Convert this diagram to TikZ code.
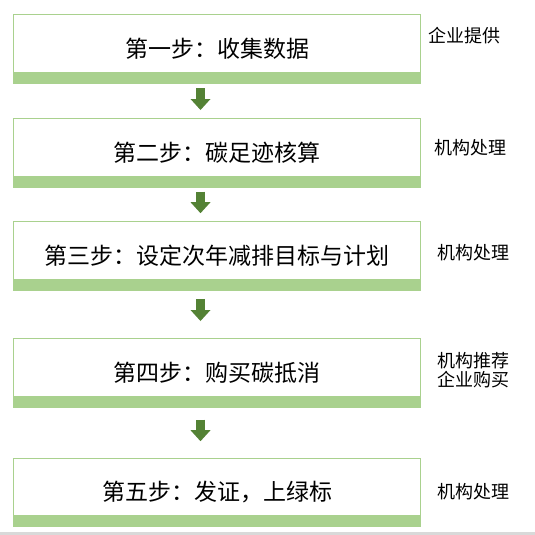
\documentclass[tikz,border=0pt]{standalone}
\usepackage{fontspec}
\setmainfont{Noto Sans CJK SC}
\usetikzlibrary{arrows.meta}
\definecolor{boxgreen}{HTML}{A9D18E}
\definecolor{arrowgreen}{HTML}{548235}

\begin{document}
\begin{tikzpicture}[x=1pt, y=-1pt,
    stepbox/.style={draw=boxgreen, line width=1pt, minimum width=406.4pt, minimum height=68.4pt, font=\fontsize{23pt}{27pt}\selectfont},
    note/.style={anchor=west, inner sep=0pt, align=left, font=\fontsize{18pt}{19.5pt}\selectfont},
    flow/.style={arrowgreen, line width=9pt, -{Triangle[width=20pt, length=11pt, line width=0pt]}}]
    \useasboundingbox (0,0) rectangle (535,535);
    % bottom edge
    \fill[black!15] (0,532) rectangle (535,535);

    % Steps
    \node[stepbox] (s1) at (217,49) {第一步：收集数据};
    \node[stepbox] (s2) at (217,153) {第二步：碳足迹核算};
    \node[stepbox] (s3) at (217,255.9) {第三步：设定次年减排目标与计划};
    \node[stepbox] (s4) at (217,373) {第四步：购买碳抵消};
    \node[stepbox] (s5) at (217,492.2) {第五步：发证，上绿标};

    % Bars
    \fill[boxgreen] (s1.south west) rectangle ([yshift=11.7pt]s1.south east);
    \fill[boxgreen] (s2.south west) rectangle ([yshift=11.7pt]s2.south east);
    \fill[boxgreen] (s3.south west) rectangle ([yshift=11.7pt]s3.south east);
    \fill[boxgreen] (s4.south west) rectangle ([yshift=11.7pt]s4.south east);
    \fill[boxgreen] (s5.south west) rectangle ([yshift=11.7pt]s5.south east);

    % Arrows
    \draw[flow, shorten <=4.6pt, shorten >=8.3pt] ([xshift=-16.5pt]s1.south) -- ([xshift=-16.5pt]s2.north);
    \draw[flow, shorten <=4pt, shorten >=8pt] ([xshift=-16.5pt]s2.south) -- ([xshift=-16.5pt]s3.north);
    \draw[flow, shorten <=8.3pt, shorten >=17.3pt] ([xshift=-16.5pt]s3.south) -- ([xshift=-16.5pt]s4.north);
    \draw[flow, shorten <=11.8pt, shorten >=16.3pt] ([xshift=-16.5pt]s4.south) -- ([xshift=-16.5pt]s5.north);

    % Who does it
    \node[note] (n1) at (428.5,36) {企业提供};
    \node[note] (n2) at (434,148) {机构处理};
    \node[note] (n3) at (437.5,253) {机构处理};
    \node[note] (n4) at (437.5,370.3) {机构推荐\\企业购买};
    \node[note] (n5) at (437,492) {机构处理};
\end{tikzpicture}
\end{document}
